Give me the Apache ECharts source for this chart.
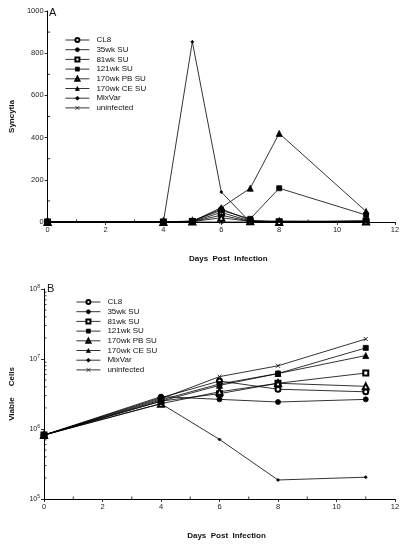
<!DOCTYPE html>
<html><head><meta charset="utf-8">
<script src="https://cdn.jsdelivr.net/npm/echarts@6/dist/echarts.min.js"></script>
<style>html,body{margin:0;padding:0;background:#fff}#c{width:404px;height:548px}</style>
</head><body><div id="c"></div>
<script>
// ---- Panel A: Syncytia ----
const daysA = [0, 4, 5, 6, 7, 8, 11];
const cl8A   = [0, 0, 2, 32, 3, 0, 4];
const su35A  = [0, 0, 3, 62, 8, 2, 6];
const su81A  = [0, 0, 2, 45, 5, 1, 3];
const su121A = [0, 0, 5, 55, 15, 160, 33];
const pb170A = [0, 0, 2, 20, 3, 0, 2];
const ce170A = [0, 0, 3, 68, 160, 420, 50];
const mixA   = [0, 0, 854, 142, 0, 5, 0];
const uninfA = [0, 0, 0, 0, 0, 0, 0];

// ---- Panel B: Viable cells ----
const daysB = [0, 4, 6, 8, 11];
const cl8B   = [8.2e5, 2.8e6, 4.85e6, 3.7e6, 3.4e6];
const su35B  = [8.2e5, 2.9e6, 2.65e6, 2.43e6, 2.65e6];
const su81B  = [8.2e5, 2.5e6, 3.2e6, 4.5e6, 6.3e6];
const su121B = [8.2e5, 2.6e6, 4.4e6, 6.2e6, 1.44e7];
const pb170B = [8.2e5, 2.3e6, 3.4e6, 4.5e6, 4.07e6];
const ce170B = [8.2e5, 2.5e6, 4.2e6, 6.2e6, 1.12e7];
const mixB   = [8.2e5, 2.3e6, 7.1e5, 1.87e5, 2.05e5];
const uninfB = [8.2e5, 2.7e6, 5.6e6, 8.0e6, 1.93e7];

const names = ['CL8', '35wk SU', '81wk SU', '121wk SU', '170wk PB SU', '170wk CE SU', 'MixVar', 'uninfected'];
const xTicksMinor = [1, 3, 5, 7, 9, 11];
const yMinorA = [100, 300, 500, 700, 900];
const yMinorB = [2e5,3e5,4e5,5e5,6e5,7e5,8e5,9e5,2e6,3e6,4e6,5e6,6e6,7e6,8e6,9e6,2e7,3e7,4e7,5e7,6e7,7e7,8e7,9e7];

const xMark = 'path://M0,0L10,10M10,0L0,10';
const symbols = ['emptyCircle', 'circle', 'emptyRect', 'rect', 'emptyTriangle', 'triangle', 'diamond', xMark];
const sizes = [5, 5, 5, 5, 6, 6, 3, 4];

const dataA = [cl8A, su35A, su81A, su121A, pb170A, ce170A, mixA, uninfA];
const dataB = [cl8B, su35B, su81B, su121B, pb170B, ce170B, mixB, uninfB];

function mkSeries(arrs, days, idx) {
  return arrs.map((vals, i) => ({
    name: names[i], type: 'line', xAxisIndex: idx, yAxisIndex: idx,
    data: days.map((d, k) => [d, vals[k]]),
    symbol: symbols[i], symbolSize: sizes[i], showAllSymbol: true,
    color: '#000',
    itemStyle: { color: '#000', borderColor: '#000', borderWidth: 0.8 },
    lineStyle: { color: '#000', width: 0.8 },
    emphasis: { disabled: true }, animation: false, z: 3
  }));
}

function minorSeries(idx, xs, ys, yBase) {
  const data = xs.map(v => [v, yBase, 0]).concat(ys.map(v => [0, v, 1]));
  return {
    type: 'custom', name: 'minor' + idx, xAxisIndex: idx, yAxisIndex: idx, clip: false, silent: true,
    data: data, encode: { x: 0, y: 1 },
    renderItem: function (params, api) {
      const p = api.coord([api.value(0), api.value(1)]);
      const kind = api.value(2);
      const shape = kind === 0 ? { x1: p[0], y1: p[1], x2: p[0], y2: p[1] - 2.5 } : { x1: p[0], y1: p[1], x2: p[0] + 2.5, y2: p[1] };
      return { type: 'line', shape: shape, style: { stroke: '#000', lineWidth: 0.8 } };
    }, animation: false
  };
}

const axisCommon = {
  axisLine: { lineStyle: { color: '#000', width: 1 } },
  axisTick: { length: 3, lineStyle: { color: '#000', width: 0.8 } },
  splitLine: { show: false },
  axisLabel: { fontFamily: 'Liberation Sans', fontSize: 7.5, color: '#222', margin: 4 }
};
const nameStyle = { fontFamily: 'Liberation Sans', fontSize: 8, fontWeight: 'bold', color: '#111' };

function legend(left, top) {
  return {
    data: names, orient: 'vertical', left: left, top: top,
    itemWidth: 24, itemHeight: 5, itemGap: 1.7, padding: 0,
    selectedMode: false,
    lineStyle: { width: 0.8 },
    itemStyle: { borderWidth: 0.7 },
    textStyle: { fontFamily: 'Liberation Sans', fontSize: 8, color: '#111', padding: [0, 0, 0, 2] }
  };
}

const supRich = { b: { fontFamily: 'Liberation Sans', fontSize: 7, color: '#222' }, s: { fontFamily: 'Liberation Sans', fontSize: 5, color: '#222', verticalAlign: 'top', padding: [0, 0, 5, 0] } };

const option = {
  backgroundColor: '#fff',
  animation: false,
  grid: [
    { left: 43, top: 11, width: 352, height: 211 },
    { left: 43, top: 289, width: 352, height: 210 }
  ],
  legend: [legend(65, 36), legend(76, 298)],
  xAxis: [0, 1].map(i => Object.assign({}, axisCommon, {
    type: 'value', gridIndex: i, min: 0, max: 12, interval: 2,
    name: 'Days  Post  Infection', nameLocation: 'middle', nameGap: 33,
    nameTextStyle: Object.assign({}, nameStyle, { padding: [0, 0, 0, 14] })
  })),
  yAxis: [
    Object.assign({}, axisCommon, {
      type: 'value', gridIndex: 0, min: 0, max: 1000, interval: 200,
      name: 'Syncytia', nameLocation: 'middle', nameGap: 28, nameTextStyle: nameStyle,
      axisLabel: Object.assign({}, axisCommon.axisLabel, { formatter: v => String(v) })
    }),
    Object.assign({}, axisCommon, {
      type: 'log', logBase: 10, gridIndex: 1, min: 1e5, max: 1e8,
      name: 'Viable     Cells', nameLocation: 'middle', nameGap: 28, nameTextStyle: nameStyle,
      axisLabel: Object.assign({}, axisCommon.axisLabel, {
        formatter: v => '{b|10}{s|' + Math.round(Math.log10(v)) + '}', rich: supRich
      })
    })
  ],
  graphic: [
    { type: 'text', left: 49, top: 7, style: { text: 'A', font: '11px Liberation Sans', fill: '#111' } },
    { type: 'text', left: 47, top: 283, style: { text: 'B', font: '11px Liberation Sans', fill: '#111' } }
  ],
  series: mkSeries(dataA, daysA, 0).concat(mkSeries(dataB, daysB, 1)).concat([
    minorSeries(0, xTicksMinor, yMinorA, 0),
    minorSeries(1, xTicksMinor, yMinorB, 1e5)
  ])
};

const chart = echarts.init(document.getElementById('c'), null, { renderer: 'canvas' });
chart.setOption(option);
</script>
</body></html>
